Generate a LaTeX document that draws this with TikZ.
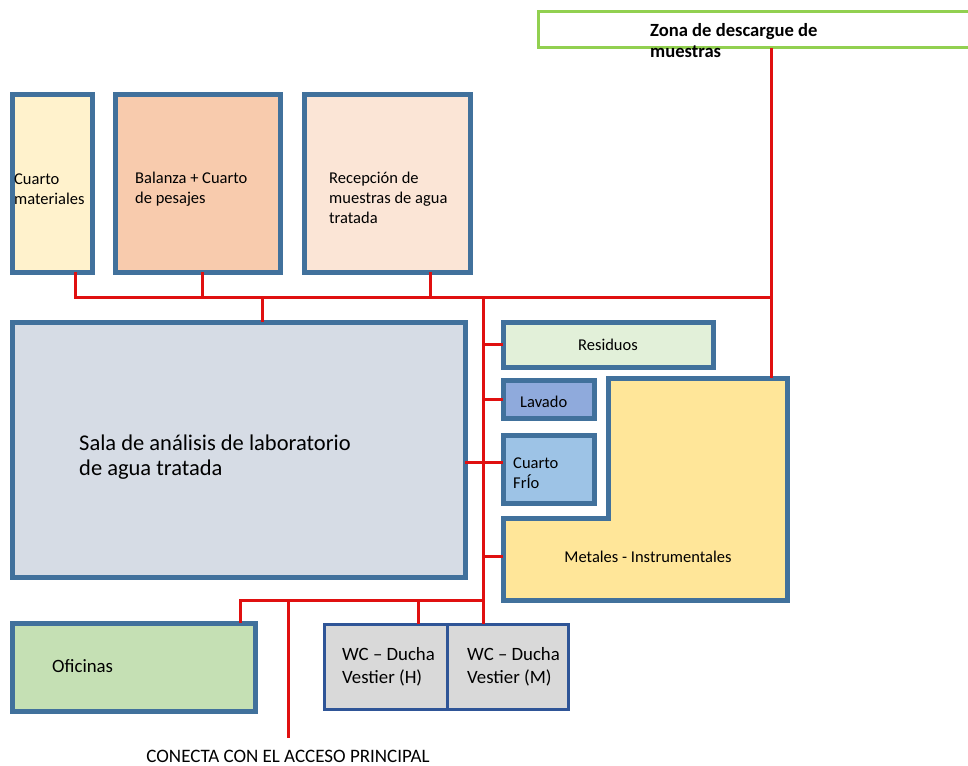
\documentclass[tikz,border=0pt]{standalone}
\usepackage{fontspec}
\setmainfont{Carlito}
\definecolor{roomblue}{HTML}{41719C}
\definecolor{wcblue}{HTML}{2F5597}
\definecolor{wire}{HTML}{E01010}
\definecolor{zgreen}{HTML}{92D050}
\definecolor{cmfill}{HTML}{FFF2CC}
\definecolor{bafill}{HTML}{F8CBAD}
\definecolor{refill}{HTML}{FBE5D6}
\definecolor{safill}{HTML}{D6DCE5}
\definecolor{rsfill}{HTML}{E2F0D9}
\definecolor{lvfill}{HTML}{8FAADC}
\definecolor{cffill}{HTML}{9DC3E6}
\definecolor{mefill}{HTML}{FFE699}
\definecolor{offill}{HTML}{C5E0B4}
\definecolor{wcfill}{HTML}{D9D9D9}
\begin{document}
\begin{tikzpicture}[x=1pt,y=-1pt,
  room/.style={draw=roomblue, line width=5pt, anchor=north west, inner sep=0pt, outer sep=0pt, rectangle},
  wcroom/.style={draw=wcblue, line width=3pt, anchor=north west, inner sep=0pt, outer sep=0pt, rectangle, fill=wcfill},
  wireline/.style={draw=wire, line width=3pt},
  txt/.style={anchor=base west, inner sep=0pt, font=\fontsize{16.5}{20}\selectfont, align=left},
  bigtxt/.style={anchor=base west, inner sep=0pt, font=\fontsize{18.8}{23}\selectfont, align=left},
  ctxt/.style={anchor=base, inner sep=0pt, font=\fontsize{16.5}{20}\selectfont, align=center}]
\useasboundingbox (0,0) rectangle (968,765);
% Zona de descargue
\node[draw=zgreen, line width=3pt, fill=white, anchor=north west, inner sep=0pt, outer sep=0pt,
      minimum width=437pt, minimum height=36pt] (zona) at (538,12) {};
\node[txt, font=\bfseries\fontsize{18.6}{21}\selectfont] (zonat) at (650,58) {Zona de descargue de\\muestras};
% top rooms
\node[room, fill=cmfill, minimum width=80pt, minimum height=177pt] (cm) at (12,95) {};
\node[room, fill=bafill, minimum width=165pt, minimum height=177pt] (ba) at (115,95) {};
\node[room, fill=refill, minimum width=166pt, minimum height=177pt] (re) at (304,95) {};
\node[txt] (cmt) at (14,204) {Cuarto\\materiales};
\node[txt] (bat) at (135,203) {Balanza + Cuarto\\de pesajes};
\node[txt] (ret) at (329,223) {Recepción de\\muestras de agua\\tratada};
% Sala
\node[room, fill=safill, minimum width=453pt, minimum height=255pt] (sa) at (12,322) {};
\node[txt, font=\fontsize{22.5}{25}\selectfont] (sat) at (79,475) {Sala de análisis de laboratorio\\de agua tratada};
% right rooms
\node[room, fill=rsfill, minimum width=210pt, minimum height=45pt] (rs) at (503,322) {};
\node[ctxt] (rst) at (rs.center) [yshift=-5.5pt] {Residuos};
\node[room, fill=lvfill, minimum width=91pt, minimum height=38pt] (lv) at (503,380) {};
\node[txt] (lvt) at (520,407) {Lavado};
\node[room, fill=cffill, minimum width=91pt, minimum height=68pt] (cf) at (503,435) {};
\node[txt] (cft) at (513,488) {Cuarto\\FrÍo};
% Metales L shape
\draw[draw=roomblue, line width=5pt, fill=mefill, line join=miter]
  (608,378) -- (787,378) -- (787,600) -- (503,600) -- (503,518) -- (608,518) -- cycle;
\node[ctxt] (met) at (648,562) {Metales - Instrumentales};
\coordinate (mtop) at (771,378);
\coordinate (mleft) at (503,556);
% bottom rooms
\node[room, fill=offill, minimum width=243pt, minimum height=88pt] (of) at (12,623) {};
\node[bigtxt] (oft) at (52,672) {Oficinas};
\node[wcroom, minimum width=123pt, minimum height=85pt] (wh) at (324,624) {};
\node[wcroom, minimum width=121pt, minimum height=85pt] (wm) at (447,624) {};
\node[bigtxt] (wht) at (342,683) {WC – Ducha\\Vestier (H)};
\node[bigtxt] (wmt) at (467,683) {WC – Ducha\\Vestier (M)};
\node[anchor=base, inner sep=0pt, font=\fontsize{19}{23}\selectfont] (acc) at (288,762) {CONECTA CON EL ACCESO PRINCIPAL};
% wiring
\coordinate (t1) at (75,297);
\coordinate (t2) at (771,297);
\coordinate (vb) at (483,297);
\coordinate (vbb) at (483,600);
\coordinate (b1) at (240,600);
\coordinate (acce) at (288,738);
\draw[wireline] (cm.south -| t1) -- (t1) -- (t2);
\draw[wireline] (ba.south -| 202,0) -- (202,297);
\draw[wireline] (re.south -| 430,0) -- (430,297);
\draw[wireline] (sa.north -| 262,0) -- (262,297);
\draw[wireline] (zona.south -| t2) -- (mtop);
\draw[wireline] (vb) -- (wm.north -| vb);
\draw[wireline] (vb |- rs.west) -- (rs.west);
\draw[wireline] (vb |- lv.west) -- (lv.west);
\draw[wireline] (sa.east |- 0,462) -- (cf.west |- 0,462);
\draw[wireline] (vb |- mleft) -- (mleft);
\draw[wireline] (of.north -| b1) -- (b1) -- (vbb);
\draw[wireline] (wh.north -| 418,0) -- (418,600);
\draw[wireline] (288,600) -- (acce);
\end{tikzpicture}
\end{document}
